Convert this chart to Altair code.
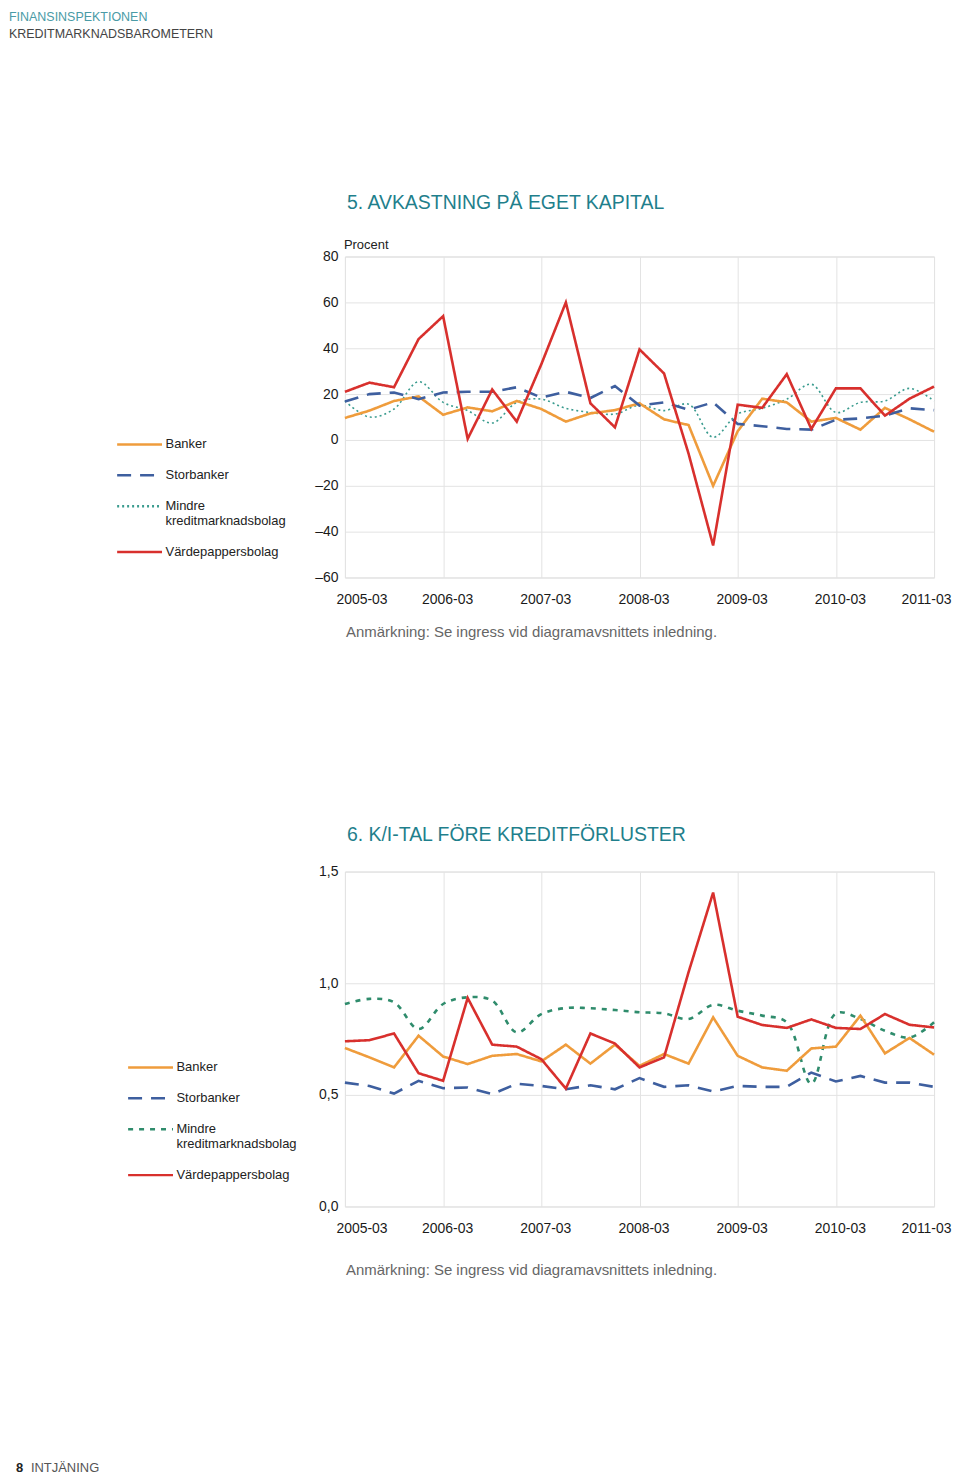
import altair as alt
import pandas as pd

# ---------------- data ----------------
kvartal = [
    "2005-03", "2005-06", "2005-09", "2005-12",
    "2006-03", "2006-06", "2006-09", "2006-12",
    "2007-03", "2007-06", "2007-09", "2007-12",
    "2008-03", "2008-06", "2008-09", "2008-12",
    "2009-03", "2009-06", "2009-09", "2009-12",
    "2010-03", "2010-06", "2010-09", "2010-12",
    "2011-03",
]
ar_ticks = ["2005-03", "2006-03", "2007-03", "2008-03", "2009-03", "2010-03", "2011-03"]
serier = ["Banker", "Storbanker", "Mindre kreditmarknadsbolag", "Värdepappersbolag"]

# 5. Avkastning på eget kapital (procent)
roe_banker = [9.6, 12.8, 17, 19, 11, 14.2, 12.5, 17, 13.5, 8, 11.6, 13, 16, 9, 6.5,
              -20, 3.8, 18, 16.4, 8, 9.6, 4.5, 14, 9, 3.6]
roe_storbanker = [16.8, 20, 20.7, 17.8, 20.7, 21, 21, 23, 18.5, 21, 18.3, 23.5, 15, 16.4, 13.2,
                  16.4, 7, 6, 4.8, 4.5, 8.8, 9.4, 10.6, 13.8, 13]
roe_mindre = [17, 10, 13.5, 25.4, 16.4, 12.8, 7.4, 16.4, 17.8, 13.8, 12, 11.3, 15.2, 12.8, 15.6,
              1.2, 11.3, 13.8, 17.8, 24.3, 12, 16.4, 17, 22.5, 17]
roe_vardepapper = [21, 25, 23, 44, 54, 0.5, 22, 8, 33, 60, 16, 5.5, 39.5, 29, -6,
                   -46, 15.4, 14, 28.7, 4.8, 22.5, 22.5, 10.6, 18, 23.3]

# 6. K/I-tal före kreditförluster
ki_banker = [0.71, 0.668, 0.623, 0.765, 0.672, 0.638, 0.675, 0.683, 0.65, 0.725, 0.64, 0.725,
             0.63, 0.683, 0.64, 0.847, 0.675, 0.623, 0.608, 0.708, 0.716, 0.855, 0.686, 0.755, 0.68]
ki_storbanker = [0.555, 0.54, 0.506, 0.563, 0.53, 0.533, 0.503, 0.55, 0.54, 0.525, 0.543, 0.525,
                 0.575, 0.536, 0.543, 0.515, 0.54, 0.536, 0.536, 0.6, 0.56, 0.585, 0.555, 0.555, 0.536]
ki_mindre = [0.907, 0.93, 0.915, 0.795, 0.907, 0.937, 0.922, 0.78, 0.862, 0.889, 0.888, 0.88,
             0.87, 0.865, 0.84, 0.903, 0.877, 0.855, 0.825, 0.55, 0.865, 0.84, 0.787, 0.757, 0.825]
ki_vardepapper = [0.74, 0.745, 0.775, 0.597, 0.563, 0.934, 0.725, 0.716, 0.66, 0.528, 0.775, 0.73,
                  0.623, 0.668, 1.05, 1.406, 0.85, 0.813, 0.8, 0.838, 0.8, 0.795, 0.862, 0.814, 0.802]

header1 = "FINANSINSPEKTIONEN"
header2 = "KREDITMARKNADSBAROMETERN"
titel1 = "5. AVKASTNING PÅ EGET KAPITAL"
titel2 = "6. K/I-TAL FÖRE KREDITFÖRLUSTER"
enhet1 = "Procent"
anm = "Anmärkning: Se ingress vid diagramavsnittets inledning."
sidnr = "8"
sidnamn = "INTJÄNING"

# ---------------- styling ----------------
FONT = "Liberation Sans, Arial, Helvetica, sans-serif"
TEAL_TITLE = "#1f7f8c"
C_ORANGE = "#ef9c3c"
C_BLUE = "#3e5f9f"
C_TEAL = "#3b9c8f"
C_GREEN = "#2f8c6c"
C_RED = "#d8302d"

W = 591
H1 = 322
H2 = 336


def long_df(vals):
    rows = []
    for s, arr in zip(serier, vals):
        for k, v in zip(kvartal, arr):
            rows.append({"kvartal": k, "serie": s, "varde": v})
    return pd.DataFrame(rows)


def text_layer(txt, x, y, size, color="#222222", weight="normal", baseline="alphabetic"):
    return alt.Chart(pd.DataFrame({"t": [txt]})).mark_text(
        align="left", baseline=baseline, font=FONT, fontSize=size, color=color, fontWeight=weight
    ).encode(text="t:N", x=alt.value(x), y=alt.value(y))


def panel(df, ydomain, yvalues, ylabelexpr, colors, dashes, smooth_width,
          legend_x, legend_y):
    legend = alt.Legend(
        title=None, orient="none", legendX=legend_x, legendY=legend_y, padding=0,
        symbolType="M-4.5,0L4.5,0", symbolSize=100, symbolStrokeWidth=2.5,
        symbolOffset=16.5,
        labelFont=FONT, labelFontSize=13, labelColor="#222222", labelOffset=19.5,
        labelLimit=0, rowPadding=17,
        labelExpr="datum.label == 'Mindre kreditmarknadsbolag' ? ['Mindre', 'kreditmarknadsbolag'] : datum.label",
    )
    x = alt.X("kvartal:O", sort=kvartal, title=None,
              scale=alt.Scale(type="point", padding=0),
              axis=alt.Axis(values=ar_ticks, labelAngle=0, grid=True, ticks=False, domain=False,
                            labelPadding=15, labelFont=FONT, labelFontSize=14,
                            labelColor="#1a1a1a", gridColor="#e3e3e3",
                            labelOffset=4, labelFlush=True, labelFlushOffset=13))
    y = alt.Y("varde:Q", title=None,
              scale=alt.Scale(domain=ydomain, nice=False, zero=False),
              axis=alt.Axis(values=yvalues, labelExpr=ylabelexpr, grid=True, ticks=False,
                            domain=False, labelPadding=7, labelFont=FONT, labelFontSize=14,
                            labelColor="#1a1a1a", gridColor="#e3e3e3"))
    color = alt.Color("serie:N", scale=alt.Scale(domain=serier, range=colors), legend=legend)
    dash = alt.StrokeDash("serie:N", scale=alt.Scale(domain=serier, range=dashes), legend=legend)
    base = alt.Chart(df).encode(x=x, y=y, color=color, strokeDash=dash)
    smooth = base.transform_filter(
        alt.datum.serie == "Mindre kreditmarknadsbolag"
    ).mark_line(strokeWidth=smooth_width, interpolate="catmull-rom")
    straight = base.transform_filter(
        alt.datum.serie != "Mindre kreditmarknadsbolag"
    ).mark_line(strokeWidth=2.6)
    return smooth, straight


df1 = long_df([roe_banker, roe_storbanker, roe_mindre, roe_vardepapper])
df2 = long_df([ki_banker, ki_storbanker, ki_mindre, ki_vardepapper])

s1, l1 = panel(
    df1, [-60, 80], [-60, -40, -20, 0, 20, 40, 60, 80],
    "datum.value < 0 ? '–' + format(-datum.value, 'd') : datum.label",
    [C_ORANGE, C_BLUE, C_TEAL, C_RED], [[1, 0], [14, 9], [2, 3], [1, 0]], 1.6,
    -229, 182,
)
chart1 = alt.layer(
    s1, l1,
    text_layer(header1, -337, -246, 12.5, color="#4a9ba6", baseline="top"),
    text_layer(header2, -337, -229, 12.5, color="#444444", baseline="top"),
    text_layer(titel1, 2, -48, 19.5, color=TEAL_TITLE),
    text_layer(enhet1, -1, -8, 13),
    text_layer(anm, 1, 382, 15, color="#666666"),
).properties(width=W, height=H1)

s2, l2 = panel(
    df2, [0, 1.5], [0, 0.5, 1.0, 1.5],
    "replace(format(datum.value, '.1f'), '.', ',')",
    [C_ORANGE, C_BLUE, C_GREEN, C_RED], [[1, 0], [14, 9], [5, 6], [1, 0]], 2.6,
    -218, 190,
)
chart2 = alt.layer(
    s2, l2,
    text_layer(titel2, 2, -31, 19.5, color=TEAL_TITLE),
    text_layer(anm, 1, 405, 15, color="#666666"),
    text_layer(sidnr, -330, 602, 13, color="#222222", weight="bold"),
    text_layer(sidnamn, -315, 602, 13, color="#555555"),
).properties(width=W, height=H2)

chart = alt.vconcat(chart1, chart2, spacing=295, bounds="flush").resolve_scale(
    color="independent", strokeDash="independent", x="independent", y="independent"
).resolve_legend(
    color="independent", strokeDash="independent"
).properties(
    padding=0
).configure_view(
    stroke="#8a8a8a", strokeWidth=1.5
).configure(background="white")

chart.save("out.html", embed_options={"renderer": "svg", "actions": False})
